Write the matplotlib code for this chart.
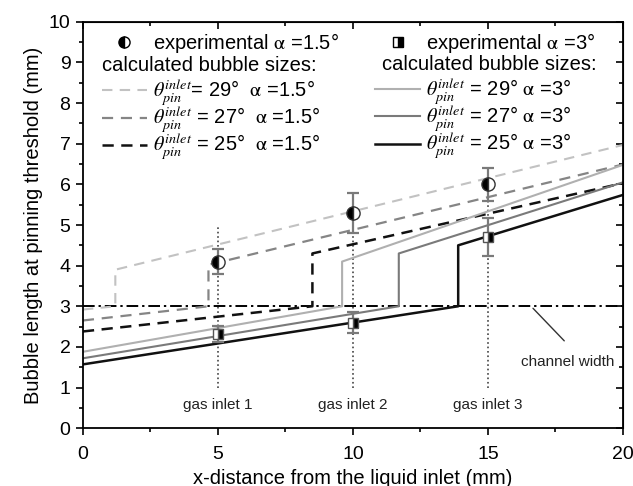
import matplotlib.pyplot as plt
from matplotlib.lines import Line2D

plt.rcParams['font.family'] = ['Liberation Sans', 'DejaVu Sans']
plt.rcParams['mathtext.fontset'] = 'stix'

# Experimental bubble lengths at the three gas inlets
x_exp = [5, 10, 15]
y_exp_a15 = [4.1, 5.3, 6.0]
err_a15 = [0.3, 0.5, 0.4]
y_exp_a3 = [2.32, 2.6, 4.7]
err_a3 = [0.2, 0.25, 0.47]

# Calculated bubble sizes (jump where the bubble reaches channel width)
x_a15_29 = [0, 1.2, 1.2, 20]
y_a15_29 = [2.92, 3.0, 3.9, 6.97]
x_a15_27 = [0, 4.65, 4.65, 20]
y_a15_27 = [2.65, 3.0, 4.02, 6.49]
x_a15_25 = [0, 8.5, 8.5, 20]
y_a15_25 = [2.38, 3.0, 4.3, 6.03]
x_a3_29 = [0, 9.6, 9.6, 20]
y_a3_29 = [1.88, 3.0, 4.1, 6.48]
x_a3_27 = [0, 11.7, 11.7, 20]
y_a3_27 = [1.72, 3.0, 4.3, 6.05]
x_a3_25 = [0, 13.9, 13.9, 20]
y_a3_25 = [1.57, 3.0, 4.5, 5.74]

channel_width = 3.0
inlet_bottom = 1.0
inlet_tops = [4.95, 4.8, 5.6]
inlet_labels = ['gas inlet 1', 'gas inlet 2', 'gas inlet 3']

fig = plt.figure(figsize=(6.33, 4.86), dpi=100)
ax = fig.add_axes([0.131, 0.119, 0.853, 0.836])

# gas inlet markers
for xi, top, lab in zip(x_exp, inlet_tops, inlet_labels):
    ax.plot([xi, xi], [inlet_bottom, top], ls=':', color='#444444', lw=1.2, zorder=1)
    ax.text(xi, 0.57, lab, ha='center', va='center', fontsize=11, color='#222222')

# channel width
ax.axhline(channel_width, color='black', lw=1.4, dashes=(6, 2, 1.2, 2), zorder=2)
ax.text(17.95, 1.63, 'channel width', ha='center', va='center', fontsize=11, color='#222222')
ax.annotate('', xy=(16.6, 3.0), xytext=(17.9, 2.1),
            arrowprops=dict(arrowstyle='-', color='#333333', lw=1.0))

# calculated curves, alpha = 1.5 (dashed)
l1, = ax.plot(x_a15_29, y_a15_29, color='#c2c2c2', lw=1.5, dashes=(5, 3.5))
l2, = ax.plot(x_a15_27, y_a15_27, color='#858585', lw=1.6, dashes=(5, 3.5))
l3, = ax.plot(x_a15_25, y_a15_25, color='#111111', lw=1.8, dashes=(4.5, 3))
# calculated curves, alpha = 3 (solid)
s1, = ax.plot(x_a3_29, y_a3_29, color='#b0b0b0', lw=1.5)
s2, = ax.plot(x_a3_27, y_a3_27, color='#7a7a7a', lw=1.5)
s3, = ax.plot(x_a3_25, y_a3_25, color='#111111', lw=1.8)

# experimental points
ax.errorbar(x_exp, y_exp_a15, yerr=err_a15, fmt='none', ecolor='#7a7a7a',
            elinewidth=1.6, capsize=4, capthick=1.6, zorder=4)
ax.errorbar(x_exp, y_exp_a3, yerr=err_a3, fmt='none', ecolor='#7a7a7a',
            elinewidth=1.6, capsize=4, capthick=1.6, zorder=4)
ax.plot(x_exp, y_exp_a15, ls='none', marker='o', ms=9.5, fillstyle='left',
        markerfacecolor='black', markerfacecoloralt='white',
        markeredgecolor='#333333', mew=1.0, zorder=5)
ax.plot(x_exp, y_exp_a3, ls='none', marker='s', ms=7.5, fillstyle='right',
        markerfacecolor='black', markerfacecoloralt='white',
        markeredgecolor='#555555', mew=1.0, zorder=5)

ax.set_xlim(0, 20)
ax.set_ylim(0, 10)
ax.set_xticks([0, 5, 10, 15, 20])
ax.set_xticks([2.5, 7.5, 12.5, 17.5], minor=True)
ax.set_yticks(range(0, 11))
ax.set_yticks([i + 0.5 for i in range(10)], minor=True)
ax.tick_params(which='major', direction='out', length=5, width=1.2, labelsize=14, pad=4)
ax.tick_params(axis='x', which='major', pad=8)
ax.tick_params(which='minor', direction='out', length=3, width=1.2)
for sp in ax.spines.values():
    sp.set_linewidth(1.3)

top = ax.secondary_xaxis('top')
top.set_xticks([0, 5, 10, 15, 20], labels=[])
top.set_xticks([2.5, 7.5, 12.5, 17.5], minor=True)
top.tick_params(which='major', direction='in', length=5, width=1.2)
top.tick_params(which='minor', direction='in', length=3, width=1.2)
right = ax.secondary_yaxis('right')
right.set_yticks(range(0, 11), labels=[])
right.set_yticks([i + 0.5 for i in range(10)], minor=True)
right.tick_params(which='major', direction='in', length=5, width=1.2)
right.tick_params(which='minor', direction='in', length=3, width=1.2)

ax.set_xlabel('x-distance from the liquid inlet (mm)', fontsize=14.5, labelpad=4)
ax.set_ylabel('Bubble length at pinning threshold (mm)', fontsize=14.5, labelpad=4)

# legends
th = r'$\theta_{pin}^{inlet}$'
al = r'$\mathrm{\alpha}$'
fs = 14.5
leg_kw = dict(frameon=False, fontsize=fs, handlelength=2.25, handletextpad=0.3,
              borderpad=0, borderaxespad=0, loc='upper left')

h15 = Line2D([], [], ls='none', marker='o', ms=8, fillstyle='left',
             markerfacecolor='black', markerfacecoloralt='white', markeredgecolor='black')
h3 = Line2D([], [], ls='none', marker='s', ms=7, fillstyle='right',
            markerfacecolor='black', markerfacecoloralt='white', markeredgecolor='black')

lg1 = ax.legend([h15], ['experimental ' + al + ' =1.5°'], bbox_to_anchor=(0.035, 0.978), **leg_kw)
ax.add_artist(lg1)
ax.text(0.035, 0.892, 'calculated bubble sizes:', transform=ax.transAxes,
        ha='left', va='center', fontsize=fs)
lg2 = ax.legend([l1, l2, l3],
                [th + '= 29°  ' + al + ' =1.5°', th + ' = 27°  ' + al + ' =1.5°',
                 th + ' = 25°  ' + al + ' =1.5°'],
                labelspacing=-0.15, bbox_to_anchor=(0.035, 0.863), **leg_kw)
ax.add_artist(lg2)
lg3 = ax.legend([h3], ['experimental ' + al + ' =3°'], bbox_to_anchor=(0.541, 0.978), **leg_kw)
ax.add_artist(lg3)
ax.text(0.553, 0.895, 'calculated bubble sizes:', transform=ax.transAxes,
        ha='left', va='center', fontsize=fs)
lg4 = ax.legend([s1, s2, s3],
                [th + ' = 29° ' + al + ' =3°', th + ' = 27° ' + al + ' =3°',
                 th + ' = 25° ' + al + ' =3°'],
                labelspacing=-0.15, bbox_to_anchor=(0.541, 0.866), **leg_kw)

fig.savefig('out.png', dpi=100)
